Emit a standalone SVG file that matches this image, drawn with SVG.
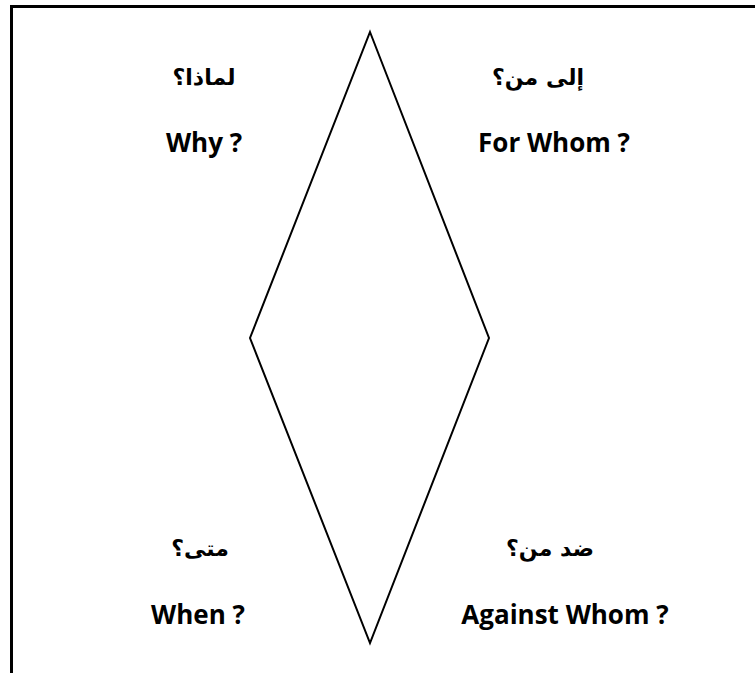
<svg xmlns="http://www.w3.org/2000/svg" width="755" height="673" viewBox="0 0 755 673">
<style>
.en{font-family:"Open Sans","Liberation Sans",sans-serif;font-weight:bold;font-size:26px;fill:#000;text-anchor:middle}
.ar{font-family:"DejaVu Sans","Noto Sans",sans-serif;font-weight:bold;font-size:22px;fill:#000;text-anchor:middle}
.ln{fill:none;stroke:#000}
</style>
<rect width="755" height="673" fill="#fff"/>
<g id="frame"><path class="ln" d="M11.5,673 V6.5 H755" stroke-width="3"/></g>
<g id="diamond"><polygon class="ln" points="370,32 489,338 370,643 250,338" stroke-width="2"/></g>
<g id="why"><text class="ar" x="204" y="85" direction="rtl">لماذا؟</text><text class="en" x="204" y="152">Why ?</text></g>
<g id="forwhom"><text class="ar" x="538" y="85" direction="rtl">إلى من؟</text><text class="en" x="554" y="152">For Whom ?</text></g>
<g id="when"><text class="ar" x="200" y="556" direction="rtl">متى؟</text><text class="en" x="198" y="624">When ?</text></g>
<g id="against"><text class="ar" x="550" y="556" direction="rtl">ضد من؟</text><text class="en" x="565" y="624">Against Whom ?</text></g>
<g id="connectors"></g>
</svg>
